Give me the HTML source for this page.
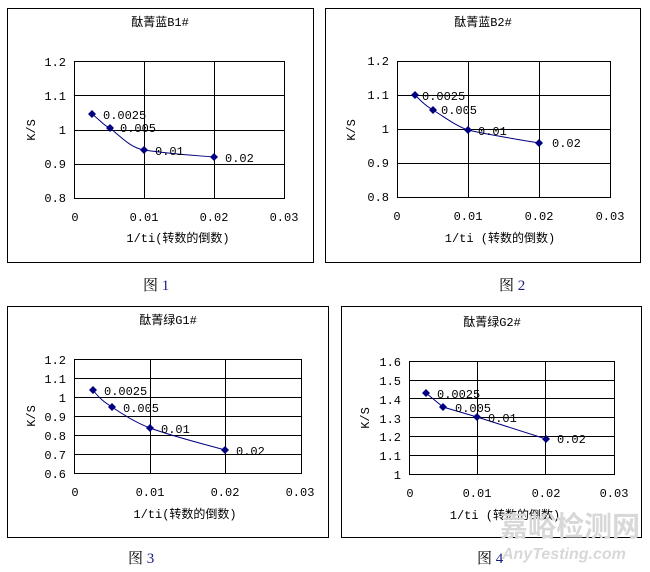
<!DOCTYPE html>
<html><head><meta charset="utf-8"><style>
body{margin:0;background:#fff}
svg{display:block}
text{font-family:"Liberation Mono","Noto Sans CJK SC",monospace;font-size:12px;fill:#000}
.c{font-family:"Liberation Serif","Noto Serif CJK SC",serif;font-size:15px}
</style></head><body>
<svg width="650" height="572" viewBox="0 0 650 572" xmlns="http://www.w3.org/2000/svg">
<defs><path id="d" d="M0,-4L4,0L0,4L-4,0Z" fill="#000080"/></defs>
<g fill="none" stroke="#000" stroke-width="1">
<rect x="7.5" y="8.5" width="306" height="254"/>
<rect x="325.5" y="8.5" width="315" height="254"/>
<rect x="7.5" y="306.5" width="321" height="231"/>
<rect x="341.5" y="306.5" width="300" height="231"/>
<rect x="74.5" y="61.5" width="210" height="137"/>
<path d="M74,95.5H284M74,130.5H284M74,164.5H284M144.5,61V198M214.5,61V198"/>
<rect x="397.5" y="61.5" width="213" height="136"/>
<path d="M397,95.5H610M397,129.5H610M397,163.5H610M468.5,61V197M539.5,61V197"/>
<rect x="74.5" y="359.5" width="227" height="114"/>
<path d="M74,378.5H301M74,397.5H301M74,416.5H301M74,435.5H301M74,454.5H301M150.5,359V473M225.5,359V473"/>
<rect x="409.5" y="361.5" width="205" height="113"/>
<path d="M409,380.5H614M409,398.5H614M409,417.5H614M409,436.5H614M409,455.5H614M477.5,361V474M545.5,361V474"/>
</g>
<g fill="none" stroke="#000080" stroke-width="1">
<path d="M92,114C100,120 104,126 110,128C124,140 132,148 144,150C170,154 190,155 214,157"/>
<path d="M415,95C422,102 426,106 433,110C446,118 456,126 468,130C490,135 515,139 539,143"/>
<path d="M93,390C99,398 104,402 112,407C125,416 137,423 150,428C175,437 200,443 225,450"/>
<path d="M426,393L443,407L477,417L546,439"/>
</g>
<use href="#d" x="92" y="114"/><use href="#d" x="110" y="128"/><use href="#d" x="144" y="150"/><use href="#d" x="214" y="157"/>
<use href="#d" x="415" y="95"/><use href="#d" x="433" y="110"/><use href="#d" x="468" y="130"/><use href="#d" x="539" y="143"/>
<use href="#d" x="93" y="390"/><use href="#d" x="112" y="407"/><use href="#d" x="150" y="428"/><use href="#d" x="225" y="450"/>
<use href="#d" x="426" y="393"/><use href="#d" x="443" y="407"/><use href="#d" x="477" y="417"/><use href="#d" x="546" y="439"/>
<text x="103" y="119">0.0025</text><text x="120" y="132">0.005</text><text x="155" y="155">0.01</text><text x="225" y="162">0.02</text>
<text x="422" y="100">0.0025</text><text x="441" y="114">0.005</text><text x="478" y="135">0.01</text><text x="552" y="147">0.02</text>
<text x="104" y="395">0.0025</text><text x="123" y="412">0.005</text><text x="161" y="433">0.01</text><text x="236" y="455">0.02</text>
<text x="437" y="398">0.0025</text><text x="455" y="412">0.005</text><text x="488" y="422">0.01</text><text x="557" y="443">0.02</text>
<text x="160" y="26" text-anchor="middle">酞菁蓝B1#</text>
<text x="483" y="26" text-anchor="middle">酞菁蓝B2#</text>
<text x="168" y="324" text-anchor="middle">酞菁绿G1#</text>
<text x="492" y="326" text-anchor="middle">酞菁绿G2#</text>
<g text-anchor="end">
<text x="66" y="66">1.2</text><text x="66" y="100">1.1</text><text x="66" y="134">1</text><text x="66" y="168">0.9</text><text x="66" y="202">0.8</text>
<text x="389" y="65">1.2</text><text x="389" y="99">1.1</text><text x="389" y="133">1</text><text x="389" y="167">0.9</text><text x="389" y="201">0.8</text>
<text x="66" y="364">1.2</text><text x="66" y="383">1.1</text><text x="66" y="402">1</text><text x="66" y="421">0.9</text><text x="66" y="440">0.8</text><text x="66" y="459">0.7</text><text x="66" y="478">0.6</text>
<text x="401" y="366">1.6</text><text x="401" y="385">1.5</text><text x="401" y="404">1.4</text><text x="401" y="423">1.3</text><text x="401" y="441">1.2</text><text x="401" y="460">1.1</text><text x="401" y="479">1</text>
</g>
<g text-anchor="middle">
<text x="75" y="221">0</text><text x="144" y="221">0.01</text><text x="214" y="221">0.02</text><text x="284" y="221">0.03</text>
<text x="397" y="220">0</text><text x="468" y="220">0.01</text><text x="539" y="220">0.02</text><text x="610" y="220">0.03</text>
<text x="75" y="496">0</text><text x="150" y="496">0.01</text><text x="225" y="496">0.02</text><text x="300" y="496">0.03</text>
<text x="410" y="497">0</text><text x="477" y="497">0.01</text><text x="546" y="497">0.02</text><text x="614" y="497">0.03</text>
<text x="178" y="242">1/ti(转数的倒数)</text>
<text x="500" y="242">1/ti (转数的倒数)</text>
<text x="185" y="518">1/ti(转数的倒数)</text>
<text x="505" y="519">1/ti (转数的倒数)</text>
</g>
<text transform="translate(35,130) rotate(-90)" text-anchor="middle">K/S</text>
<text transform="translate(355,130) rotate(-90)" text-anchor="middle">K/S</text>
<text transform="translate(35,416) rotate(-90)" text-anchor="middle">K/S</text>
<text transform="translate(369,418) rotate(-90)" text-anchor="middle">K/S</text>
<text x="500" y="536" style="font-family:'Noto Sans CJK SC',sans-serif;font-size:28px;font-weight:bold;fill:#d8d8d8">嘉峪检测网</text>
<text x="502" y="559" style="font-family:'Liberation Sans',sans-serif;font-size:16px;font-style:italic;font-weight:bold;fill:#d8d8d8">AnyTesting.com</text>
<text class="c" x="143" y="290">图 <tspan fill="#1a1a80">1</tspan></text>
<text class="c" x="499" y="290">图 <tspan fill="#1a1a80">2</tspan></text>
<text class="c" x="128" y="563">图 <tspan fill="#1a1a80">3</tspan></text>
<text class="c" x="477" y="563">图 <tspan fill="#1a1a80">4</tspan></text>
</svg>
</body></html>
